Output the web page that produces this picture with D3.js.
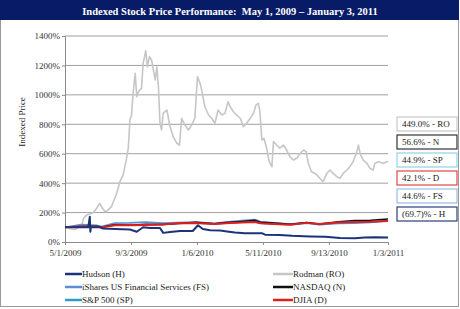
<!DOCTYPE html>
<html lang="en">
<head>
    <meta charset="UTF-8">
    <title>Indexed Stock Price Performance</title>
    <style>
        body { margin: 0; background: #ffffff; }
        svg { display: block; }
        text { font-family: "Liberation Serif", "DejaVu Serif", serif; fill: #222; }
    </style>
    <script src="https://d3js.org/d3.v7.min.js"></script>
</head>
<body>
    <svg width="460" height="309"></svg>

    <script>
        // monthly closes, indexed to 5/1/2009 = 100%
        const indexDates = ["2009-05-01", "2009-06-01", "2009-07-01", "2009-07-10", "2009-08-03", "2009-09-01",
            "2009-10-01", "2009-11-02", "2009-12-01", "2010-01-04", "2010-02-08", "2010-03-01", "2010-04-01",
            "2010-04-26", "2010-05-06", "2010-06-01", "2010-07-02", "2010-08-02", "2010-08-26", "2010-10-01",
            "2010-11-01", "2010-12-01", "2011-01-03"];
        const nasdaqValues = [100, 106, 107, 102, 117, 114, 120, 119, 126, 134, 124, 132, 140, 147, 134, 129, 120, 133, 122, 138, 146, 148, 156.6];
        const sp500Values  = [100, 107, 105, 100, 114, 114, 117, 119, 126, 129, 120, 127, 134, 139, 127, 122, 117, 128, 119, 131, 135, 138, 144.9];
        const djiaValues   = [100, 106, 104, 100, 113, 113, 116, 119, 128, 129, 122, 127, 133, 136, 127, 122, 118, 130, 122, 132, 136, 137, 142.1];
        const finServValues = [100, 118, 112, 105, 128, 130, 135, 128, 132, 135, 126, 135, 145, 152, 138, 130, 122, 132, 118, 126, 128, 133, 144.6];

        // days after 5/1/2009 and indexed price
        const rodmanDay = [0, 3, 9, 19, 32, 35, 41, 47, 54, 60, 66, 71, 76, 81, 88, 93, 98, 104, 110, 116, 120,
            123, 126, 129, 133, 136, 139, 145, 148, 153, 156, 160, 164, 171, 174, 177, 180, 183, 186, 193, 199,
            205, 212, 217, 221, 227, 234, 240, 246, 251, 256, 259, 265, 272, 278, 284, 290, 297, 303, 309, 313,
            319, 325, 332, 338, 344, 351, 357, 362, 366, 369, 373, 377, 382, 387, 392, 395, 401, 407, 414, 420,
            426, 433, 439, 445, 452, 457, 461, 467, 474, 480, 486, 489, 496, 502, 508, 515, 521, 527, 534, 540,
            546, 553, 556, 559, 565, 572, 578, 584, 587, 594, 603, 612];
        const rodmanValues = [100, 104, 90, 85, 115, 161, 183, 190, 200, 229, 263, 229, 206, 215, 240, 285, 330, 410, 455, 557, 640,
            829, 863, 1010, 1146, 987, 1021, 1044, 1214, 1300, 1191, 1259, 1237, 1101, 1191, 1055, 806, 761, 874, 897, 784,
            716, 671, 659, 841, 795, 761, 795, 841, 1123, 1078, 1033, 919, 863, 841, 806, 897, 863, 874, 953, 919,
            885, 863, 841, 784, 806, 841, 874, 931, 943, 897, 693, 705, 637, 546, 512, 682, 659, 637, 659, 625,
            580, 557, 569, 600, 625, 614, 535, 478, 466, 444, 421, 410, 466, 489, 466, 444, 433, 466, 489, 512,
            546, 614, 659, 603, 557, 535, 500, 489, 535, 546, 535, 549];

        const hudsonDay = [0, 44, 47, 48, 49, 66, 72, 95, 123, 136, 148, 161, 180, 186, 199, 218, 242, 252, 261,
            275, 294, 307, 322, 341, 373, 379, 407, 430, 464, 493, 521, 549, 568, 587, 612];
        const hudsonValues = [100, 100, 172, 70, 100, 100, 92, 88, 85, 70, 100, 95, 95, 62, 68, 75, 75, 114, 88,
            80, 78, 72, 65, 60, 60, 50, 48, 42, 38, 35, 28, 25, 30, 33, 30.3];

        const yTicks = [0, 200, 400, 600, 800, 1000, 1200, 1400];
        const xTickDates = ["2009-05-01", "2009-09-03", "2010-01-06", "2010-05-11", "2010-09-13", "2011-01-03"];

        const endLabels = ["449.0% - RO", "56.6% - N", "44.9% - SP", "42.1% - D", "44.6% - FS", "(69.7)% - H"];
        const endBorders = ["#c9c9c9", "#333333", "#8ed3e6", "#e04848", "#9dbbe0", "#2b3f80"];

        const legendNames = ["Hudson (H)", "Rodman (RO)", "iShares US Financial Services (FS)", "NASDAQ  (N)", "S&P 500 (SP)", "DJIA (D)"];
        const legendColors = ["#1b3479", "#c6c6c6", "#5b8fd3", "#111111", "#2f9dc4", "#e01e1e"];

        const parse = d3.timeParse("%Y-%m-%d");
        const start = parse("2009-05-01");
        const svg = d3.select("svg");

        const x = d3.scaleTime().domain([start, parse("2011-01-03")]).range([65, 388]);
        const y = d3.scaleLinear().domain([0, 1400]).range([242, 36]);

        // frame + title bar
        svg.append("rect").attr("x", 0.5).attr("y", 0.5).attr("width", 458).attr("height", 306)
            .attr("fill", "#fff").attr("stroke", "#9a9a9a");
        svg.append("rect").attr("x", 0).attr("y", 0).attr("width", 459).attr("height", 20).attr("fill", "#071b66");
        svg.append("text").attr("x", 230).attr("y", 14.5).attr("text-anchor", "middle")
            .style("fill", "#fff").style("font-weight", "bold").style("font-size", "10.5px")
            .text("Indexed Stock Price Performance:\u00a0 May 1, 2009 \u2013 January 3, 2011");

        // gridlines
        svg.append("g").selectAll("line").data(yTicks.filter(d => d > 0)).enter().append("line")
            .attr("x1", 65).attr("x2", 388).attr("y1", d => y(d)).attr("y2", d => y(d))
            .attr("stroke", "#a0a0a0").attr("stroke-width", 1);

        const yAxis = svg.append("g").attr("transform", "translate(65,0)")
            .call(d3.axisLeft(y).tickValues(yTicks).tickSize(3).tickFormat(d => d + "%"));
        const xAxis = svg.append("g").attr("transform", "translate(0,242)")
            .call(d3.axisBottom(x).tickValues(xTickDates.map(parse)).tickSize(3).tickFormat(d3.timeFormat("%-m/%-d/%Y")));
        [yAxis, xAxis].forEach(a => {
            a.selectAll("path, line").attr("stroke", "#8a8a8a");
            a.selectAll("text").style("font-size", "9px").style("fill", "#333");
        });
        yAxis.selectAll("text").attr("x", -5);
        xAxis.selectAll("text").attr("y", 8);

        svg.append("text").attr("transform", "translate(25,122) rotate(-90)").attr("text-anchor", "middle")
            .style("font-size", "9px").text("Indexed Price");

        const line = d3.line().x(d => x(d[0])).y(d => y(d[1]));
        const byDay = (days, vals) => days.map((d, i) => [d3.timeDay.offset(start, d), vals[i]]);
        const byDate = vals => indexDates.map((d, i) => [parse(d), vals[i]]);

        const series = [
            { data: byDay(rodmanDay, rodmanValues), color: legendColors[1], w: 1.6 },
            { data: byDate(finServValues), color: legendColors[2], w: 1.8 },
            { data: byDate(sp500Values), color: legendColors[4], w: 1.5 },
            { data: byDate(nasdaqValues), color: legendColors[3], w: 1.5 },
            { data: byDate(djiaValues), color: legendColors[5], w: 2 },
            { data: byDay(hudsonDay, hudsonValues), color: legendColors[0], w: 2 }
        ];
        svg.append("g").selectAll("path").data(series).enter().append("path")
            .attr("d", d => line(d.data)).attr("fill", "none")
            .attr("stroke", d => d.color).attr("stroke-width", d => d.w).attr("stroke-linejoin", "round");

        // end value boxes
        const boxes = svg.append("g").selectAll("g").data(endLabels).enter().append("g")
            .attr("transform", (d, i) => `translate(397,${117 + i * 18})`);
        boxes.append("rect").attr("width", 60).attr("height", 14).attr("fill", "#fff")
            .attr("stroke", (d, i) => endBorders[i]).attr("stroke-width", 1.2);
        boxes.append("text").attr("x", 5).attr("y", 10).style("font-size", "9px").text(d => d);

        // legend
        const leg = svg.append("g").selectAll("g").data(legendNames).enter().append("g")
            .attr("transform", (d, i) => `translate(${i % 2 ? 273 : 65},${274 + Math.floor(i / 2) * 13})`);
        leg.append("line").attr("x1", 0).attr("x2", (d, i) => i % 2 ? 20 : 17)
            .attr("stroke", (d, i) => legendColors[i]).attr("stroke-width", 2.5);
        leg.append("text").attr("x", (d, i) => i % 2 ? 20 : 17).attr("y", 3).style("font-size", "9px").text(d => d);
    </script>
</body>
</html>
